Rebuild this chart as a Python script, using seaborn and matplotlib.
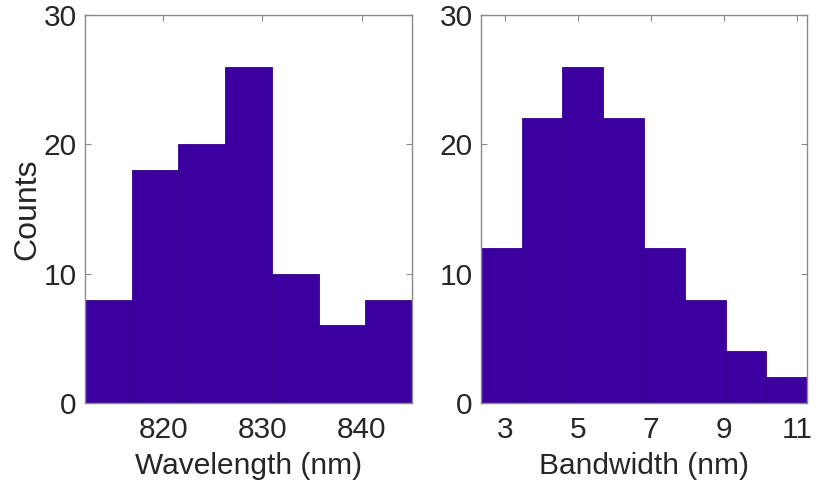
import numpy as np
import pandas as pd
import matplotlib
matplotlib.use("Agg")
import matplotlib.pyplot as plt
import seaborn as sns

# Histogram bins (edges) and counts for each panel
wavelength_edges = [812.1, 816.8, 821.5, 826.2, 830.95, 835.7, 840.4, 845.1]
wavelength_counts = [8, 18, 20, 26, 10, 6, 8]
wavelength_ticks = [820, 830, 840]

bandwidth_edges = [2.34, 3.46, 4.57, 5.69, 6.80, 7.92, 9.04, 10.15, 11.27]
bandwidth_counts = [12, 22, 26, 22, 12, 8, 4, 2]
bandwidth_ticks = [3, 5, 7, 9, 11]

count_ticks = [0, 10, 20, 30]

sns.set_theme(style="white")
plt.rcParams["font.family"] = ["Liberation Sans", "DejaVu Sans"]

BAR = "#3D00A0"
EDGE = "#32008A"
FRAME = "#8a8a8a"
TEXT = "#262626"
FS = 21.5

fig = plt.figure(figsize=(8.2, 4.83), dpi=100)
ax1 = fig.add_axes([0.1037, 0.1656, 0.3988, 0.8033])
ax2 = fig.add_axes([0.5866, 0.1656, 0.3976, 0.8033])


def draw(ax, edges, counts, ticks, xlabel):
    e = np.asarray(edges, dtype=float)
    df = pd.DataFrame({"value": (e[:-1] + e[1:]) / 2, "count": counts})
    sns.histplot(data=df, x="value", weights="count", bins=list(edges), ax=ax,
                 color=BAR, edgecolor=EDGE, linewidth=0.6, alpha=1.0)
    ax.set_xlim(edges[0], edges[-1])
    ax.set_ylim(0, 30)
    ax.set_xticks(ticks)
    ax.set_yticks(count_ticks)
    ax.set_xlabel(xlabel, fontsize=FS, color=TEXT, labelpad=6)
    ax.tick_params(axis="both", which="both", direction="in", length=4,
                   width=0.8, color=FRAME, labelsize=FS, labelcolor=TEXT,
                   top=True, right=True, bottom=True, left=True)
    ax.tick_params(axis="x", pad=9)
    ax.tick_params(axis="y", pad=6)
    for s in ax.spines.values():
        s.set_visible(True)
        s.set_color(FRAME)
        s.set_linewidth(1.0)


draw(ax1, wavelength_edges, wavelength_counts, wavelength_ticks, "Wavelength (nm)")
draw(ax2, bandwidth_edges, bandwidth_counts, bandwidth_ticks, "Bandwidth (nm)")
ax1.set_ylabel("Counts", fontsize=23, color=TEXT, labelpad=1)
ax2.set_ylabel("")

fig.savefig("out.png", dpi=100)
